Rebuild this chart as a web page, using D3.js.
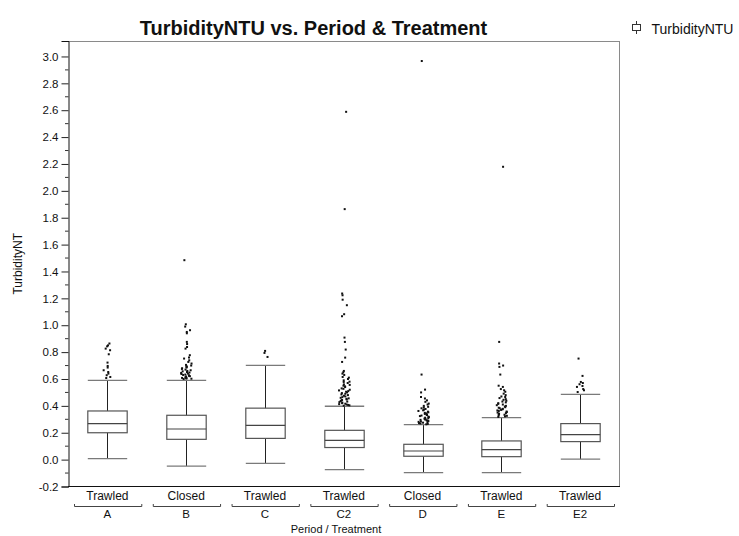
<!DOCTYPE html>
<html>
<head>
<meta charset="utf-8">
<script src="https://cdn.jsdelivr.net/npm/d3@7"></script>
<style>
  html, body { margin: 0; padding: 0; background: #fff; }
  svg { display: block; }
  text { font-family: "Liberation Sans", Arial, Helvetica, sans-serif; fill: #111; }
</style>
</head>
<body>
<svg id="chart" width="739" height="536"></svg>
<script>
// ---- data ----
const periods = ["A", "B", "C", "C2", "D", "E", "E2"];
const treatments = ["Trawled", "Closed", "Trawled", "Trawled", "Closed", "Trawled", "Trawled"];
const whiskerLow  = [0.007, -0.048, -0.028, -0.075, -0.097, -0.097, 0.004];
const q1          = [0.200, 0.151, 0.158, 0.090, 0.025, 0.022, 0.134];
const medians     = [0.268, 0.228, 0.255, 0.143, 0.064, 0.075, 0.186];
const q3          = [0.362, 0.330, 0.383, 0.218, 0.114, 0.139, 0.268];
const whiskerHigh = [0.590, 0.590, 0.702, 0.397, 0.260, 0.313, 0.485];

const outliersA  = [0.864, 0.850, 0.843, 0.826, 0.814, 0.784, 0.722, 0.697, 0.685, 0.665, 0.652, 0.640, 0.628, 0.615, 0.607];
const outliersB  = [1.484, 1.007, 0.990, 0.963, 0.950, 0.940, 0.876, 0.860, 0.838, 0.826, 0.777, 0.760, 0.752, 0.739, 0.727, 0.715,
                    0.705, 0.700, 0.695, 0.690, 0.685, 0.680, 0.675, 0.670, 0.665, 0.660, 0.657, 0.652, 0.648, 0.645, 0.640,
                    0.637, 0.633, 0.630, 0.627, 0.624, 0.621, 0.618, 0.615, 0.612, 0.610, 0.608, 0.606, 0.604, 0.602, 0.600];
const outliersC  = [0.809, 0.794, 0.764];
const outliersC2 = [2.588, 1.864, 1.236, 1.223, 1.190, 1.149, 1.082, 1.067, 0.908, 0.876, 0.819, 0.759, 0.727,
                    0.660, 0.650, 0.640, 0.630, 0.615, 0.610, 0.600, 0.590, 0.580, 0.578, 0.570, 0.560, 0.556, 0.550,
                    0.545, 0.540, 0.530, 0.527, 0.520, 0.515, 0.510, 0.505, 0.500, 0.495, 0.490, 0.485, 0.480, 0.475,
                    0.470, 0.465, 0.460, 0.456, 0.452, 0.448, 0.444, 0.440, 0.436, 0.432, 0.428, 0.424, 0.420, 0.416,
                    0.413, 0.410, 0.407, 0.404, 0.401];
const outliersD  = [2.966, 0.633, 0.521, 0.500, 0.466, 0.455, 0.441, 0.430, 0.417, 0.410, 0.400, 0.393, 0.388, 0.382,
                    0.377, 0.372, 0.367, 0.362, 0.357, 0.352, 0.348, 0.344, 0.340, 0.336, 0.332, 0.328, 0.324, 0.320,
                    0.316, 0.312, 0.308, 0.305, 0.302, 0.299, 0.296, 0.293, 0.290, 0.287, 0.284, 0.281, 0.278, 0.275,
                    0.272, 0.269, 0.266, 0.263];
const outliersE  = [2.179, 0.876, 0.715, 0.700, 0.690, 0.633, 0.550, 0.541, 0.525, 0.516, 0.505, 0.491, 0.480, 0.470,
                    0.466, 0.458, 0.450, 0.445, 0.438, 0.432, 0.426, 0.420, 0.415, 0.410, 0.405, 0.400, 0.395, 0.390,
                    0.386, 0.382, 0.378, 0.374, 0.370, 0.366, 0.362, 0.358, 0.354, 0.350, 0.346, 0.342, 0.338, 0.334,
                    0.330, 0.326, 0.322, 0.318];
const outliersE2 = [0.752, 0.623, 0.578, 0.570, 0.561, 0.548, 0.541, 0.525, 0.516, 0.503];
const outlierSets = [outliersA, outliersB, outliersC, outliersC2, outliersD, outliersE, outliersE2];

const yTicks = [-0.2, 0.0, 0.2, 0.4, 0.6, 0.8, 1.0, 1.2, 1.4, 1.6, 1.8, 2.0, 2.2, 2.4, 2.6, 2.8, 3.0];

// ---- layout ----
const svg = d3.select("#chart");
const pLeft = 68, pRight = 619.5, pTop = 41, pBottom = 486.5;

const x = d3.scaleBand().domain(periods).range([pLeft, pRight]).padding(0);
const y = d3.scaleLinear().domain([-0.2, 3.115]).range([pBottom, pTop]);
const bw = x.bandwidth() * 0.5;

// title
svg.append("text")
  .attr("x", 313.5).attr("y", 35)
  .attr("text-anchor", "middle")
  .style("font-size", "20px").style("font-weight", "bold")
  .text("TurbidityNTU vs. Period & Treatment");

// legend (box-plot glyph)
const lg = svg.append("g");
lg.append("line").attr("x1", 636.5).attr("x2", 636.5).attr("y1", 21).attr("y2", 34)
  .attr("stroke", "#333").attr("stroke-width", 1);
lg.append("rect").attr("x", 632.5).attr("y", 24.5).attr("width", 8).attr("height", 6)
  .attr("fill", "#fff").attr("stroke", "#333").attr("stroke-width", 1);
lg.append("line").attr("x1", 636.5).attr("x2", 636.5).attr("y1", 30.5).attr("y2", 34)
  .attr("stroke", "#333");
lg.append("text").attr("x", 651.5).attr("y", 33.5)
  .style("font-size", "14px").text("TurbidityNTU");

// frame: top & right gray
svg.append("line").attr("x1", pLeft).attr("x2", pRight).attr("y1", pTop + 0.5).attr("y2", pTop + 0.5)
  .attr("stroke", "#8a8a8a");
svg.append("line").attr("x1", pRight).attr("x2", pRight).attr("y1", pTop).attr("y2", pBottom)
  .attr("stroke", "#8a8a8a");

// y axis
const fmt = d3.format(".1f");
const yAxis = d3.axisLeft(y).tickValues(yTicks).tickSize(7).tickPadding(3)
  .tickFormat(d => fmt(d).replace("\u2212", "-"));
const gy = svg.append("g").attr("transform", `translate(${pLeft + 0.5},0)`).call(yAxis);
gy.select(".domain").attr("stroke", "#111");
gy.selectAll(".tick line").attr("stroke", "#222");
gy.selectAll(".tick text").style("font-size", "11.5px")
  .style("font-family", "'Liberation Sans', Arial, sans-serif").attr("fill", "#111");
// minor ticks
const minorVals = yTicks.slice(0, -1).map(v => v + 0.1);
gy.selectAll(".minor").data(minorVals).enter().append("line")
  .attr("class", "minor")
  .attr("x1", -3.5).attr("x2", 0)
  .attr("y1", d => y(d)).attr("y2", d => y(d))
  .attr("stroke", "#333");

// bottom axis line
svg.append("line").attr("x1", pLeft).attr("x2", pRight + 0.5).attr("y1", pBottom).attr("y2", pBottom)
  .attr("stroke", "#111");

// y label
svg.append("text")
  .attr("transform", `translate(22,${(pTop + pBottom) / 2}) rotate(-90)`)
  .attr("text-anchor", "middle")
  .style("font-size", "12px")
  .text("TurbidityNT");

// x labels
const gx = svg.append("g");
periods.forEach((p, i) => {
  const x0 = x(p), cx = x0 + x.bandwidth() / 2;
  gx.append("text").attr("x", cx).attr("y", 500).attr("text-anchor", "middle")
    .style("font-size", "12px").text(treatments[i]);
  const bx1 = x0 + 6.5, bx2 = x0 + x.bandwidth() - 5;
  gx.append("path")
    .attr("d", `M${bx1},504 V506.5 H${bx2} V504`)
    .attr("fill", "none").attr("stroke", "#444").attr("stroke-width", 1);
  gx.append("text").attr("x", cx).attr("y", 517.5).attr("text-anchor", "middle")
    .style("font-size", "11.5px").text(p);
});
svg.append("text").attr("x", 336).attr("y", 533).attr("text-anchor", "middle")
  .style("font-size", "11px").text("Period / Treatment");

// deterministic jitter in [-0.5, 0.5)
function jit(i, j) {
  const s = Math.sin((i + 1) * 78.233 + (j + 1) * 12.9898) * 43758.5453;
  return (s - Math.floor(s)) - 0.5;
}

// boxes
const gb = svg.append("g");
periods.forEach((p, i) => {
  const cx = Math.round(x(p) + x.bandwidth() / 2) + 0.5;
  const xl = cx - bw / 2, xr = cx + bw / 2;
  // whiskers
  gb.append("line").attr("x1", cx).attr("x2", cx).attr("y1", y(q3[i])).attr("y2", y(whiskerHigh[i]))
    .attr("stroke", "#222");
  gb.append("line").attr("x1", cx).attr("x2", cx).attr("y1", y(q1[i])).attr("y2", y(whiskerLow[i]))
    .attr("stroke", "#222");
  // caps
  [whiskerHigh[i], whiskerLow[i]].forEach(v => {
    gb.append("line").attr("x1", xl).attr("x2", xr).attr("y1", y(v)).attr("y2", y(v))
      .attr("stroke", "#7a7a7a").attr("stroke-width", 1.3);
  });
  // box
  gb.append("rect").attr("x", xl).attr("y", y(q3[i])).attr("width", bw)
    .attr("height", y(q1[i]) - y(q3[i]))
    .attr("fill", "none").attr("stroke", "#555").attr("stroke-width", 1.2);
  gb.append("line").attr("x1", xl).attr("x2", xr).attr("y1", y(medians[i])).attr("y2", y(medians[i]))
    .attr("stroke", "#444").attr("stroke-width", 1.2);
  // outliers with deterministic jitter (wider where points are dense)
  const pts = outlierSets[i];
  gb.selectAll(null).data(pts).enter().append("rect")
    .attr("x", (d, j) => {
      const n = pts.filter(v => Math.abs(v - d) < 0.05).length;
      const spread = n > 8 ? 11 : (n > 3 ? 8 : 5);
      return cx - 1 + jit(i, j) * spread;
    })
    .attr("y", d => y(d) - 1)
    .attr("width", 2).attr("height", 2)
    .attr("fill", "#111");
});
</script>
</body>
</html>
